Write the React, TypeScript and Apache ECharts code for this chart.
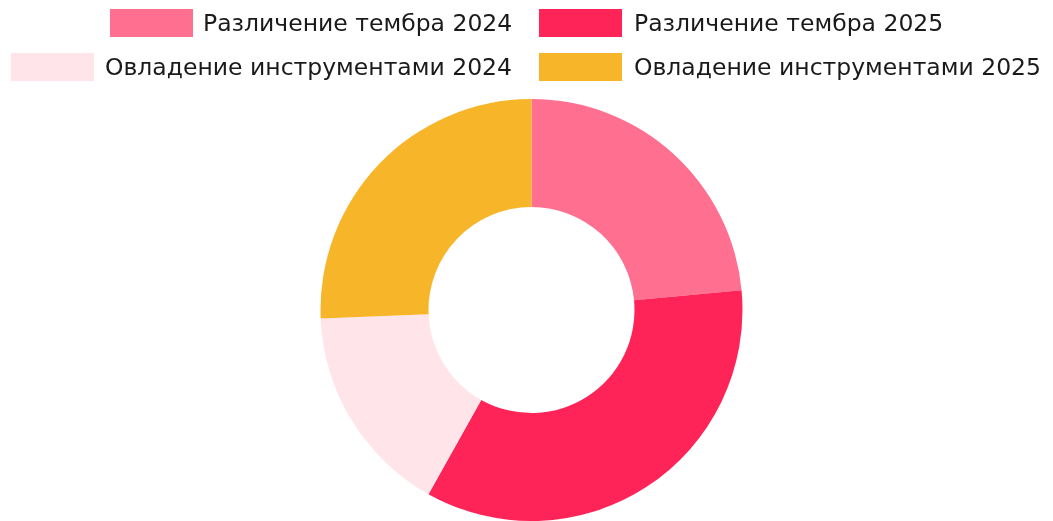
import React, { useEffect, useRef } from "react";
import * as echarts from "echarts";

const categories = [
  "Различение тембра 2024",
  "Различение тембра 2025",
  "Овладение инструментами 2024",
  "Овладение инструментами 2025",
];
const values = [55, 81, 38, 60];
const colors = ["#FF7090", "#FF2458", "#FFE4EA", "#F7B62A"];

export default function App() {
  const ref = useRef<HTMLDivElement>(null);
  useEffect(() => {
    if (!ref.current) return;
    const chart = echarts.init(ref.current, undefined, { renderer: "svg" });
    const legendPos = [
      { left: 110, top: 9, pad: 5 },
      { left: 539, top: 9, pad: 7 },
      { left: 11, top: 53, pad: 6 },
      { left: 539, top: 53, pad: 7 },
    ];
    chart.setOption({
      animation: false,
      color: colors,
      legend: categories.map((c, i) => ({
        data: [c],
        left: legendPos[i].left,
        top: legendPos[i].top,
        padding: 0,
        itemWidth: 83,
        itemHeight: 28,
        icon: "rect",
        selectedMode: false,
        textStyle: {
          fontFamily: "DejaVu Sans",
          fontSize: 23.5,
          color: "#1a1a1a",
          padding: [0, 0, 0, legendPos[i].pad],
        },
      })),
      series: [
        {
          type: "pie",
          center: [531.5, 310],
          radius: [103, 211],
          startAngle: 90,
          clockwise: true,
          label: { show: false },
          labelLine: { show: false },
          emphasis: { disabled: true },
          data: categories.map((c, i) => ({
            name: c,
            value: values[i],
            itemStyle: { color: colors[i] },
          })),
        },
      ],
    });
    return () => chart.dispose();
  }, []);
  return (
    <div
      ref={ref}
      style={{ position: "fixed", left: 0, top: 0, width: 1053, height: 521 }}
    />
  );
}
